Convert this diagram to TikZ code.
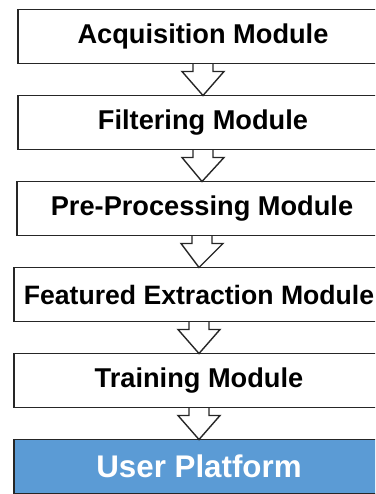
\documentclass[tikz,border=0pt]{standalone}
\usepackage{fontspec}
\setmainfont{Liberation Sans}
\usepackage{xcolor}
\usepackage{tikz}
\usetikzlibrary{calc}
\usetikzlibrary{positioning}
\definecolor{platformblue}{HTML}{5B9BD5}
\tikzstyle{module} = [draw=black!85, line width=1.4pt,
	outer sep=0pt,
	minimum width = 370pt,
	minimum height = 54pt,
	font=\fontsize{27.2}{30}\selectfont\bfseries]
\tikzstyle{platform} = [module, fill=platformblue, text=white,
	font=\fontsize{31.3}{34}\selectfont\bfseries]
\tikzstyle{hollow} = [draw=black!85, line width=1.4pt, line join=miter]
\newcommand{\drawhollow}[2]{\draw[hollow] ($(#1.south)+(-10pt,0)$) -- ++(0,-8pt) -- ++(-11pt,0)
	-- (#2.north) -- ($(#1.south)+(21pt,-8pt)$) -- ++(-11pt,0) -- ($(#1.south)+(10pt,0)$)}

\begin{document}
\begin{tikzpicture}
			\useasboundingbox (0,0) rectangle (375pt,-494pt);
			\clip (0,0) rectangle (375pt,-494pt);
			\node (acq) [module] at (203pt,-36.5pt) {Acquisition Module};
			\node (filt) [module, below=32pt of acq] {Filtering Module};
			\node (pre) [module, below=32pt of filt, xshift=-1pt] {Pre-Processing Module};
			\node (feat) [module, below=32pt of pre, xshift=-3pt,
				font=\fontsize{26.6}{30}\selectfont\bfseries] {Featured Extraction Module};
			\node (train) [module, below=32pt of feat] {Training Module};
			\node (user) [platform, below=32pt of train] {User Platform};
			
			\drawhollow{acq}{filt};
			\drawhollow{filt}{pre};
			\drawhollow{pre}{feat};
			\drawhollow{feat}{train};
			\drawhollow{train}{user};
		\end{tikzpicture}
\end{document}
